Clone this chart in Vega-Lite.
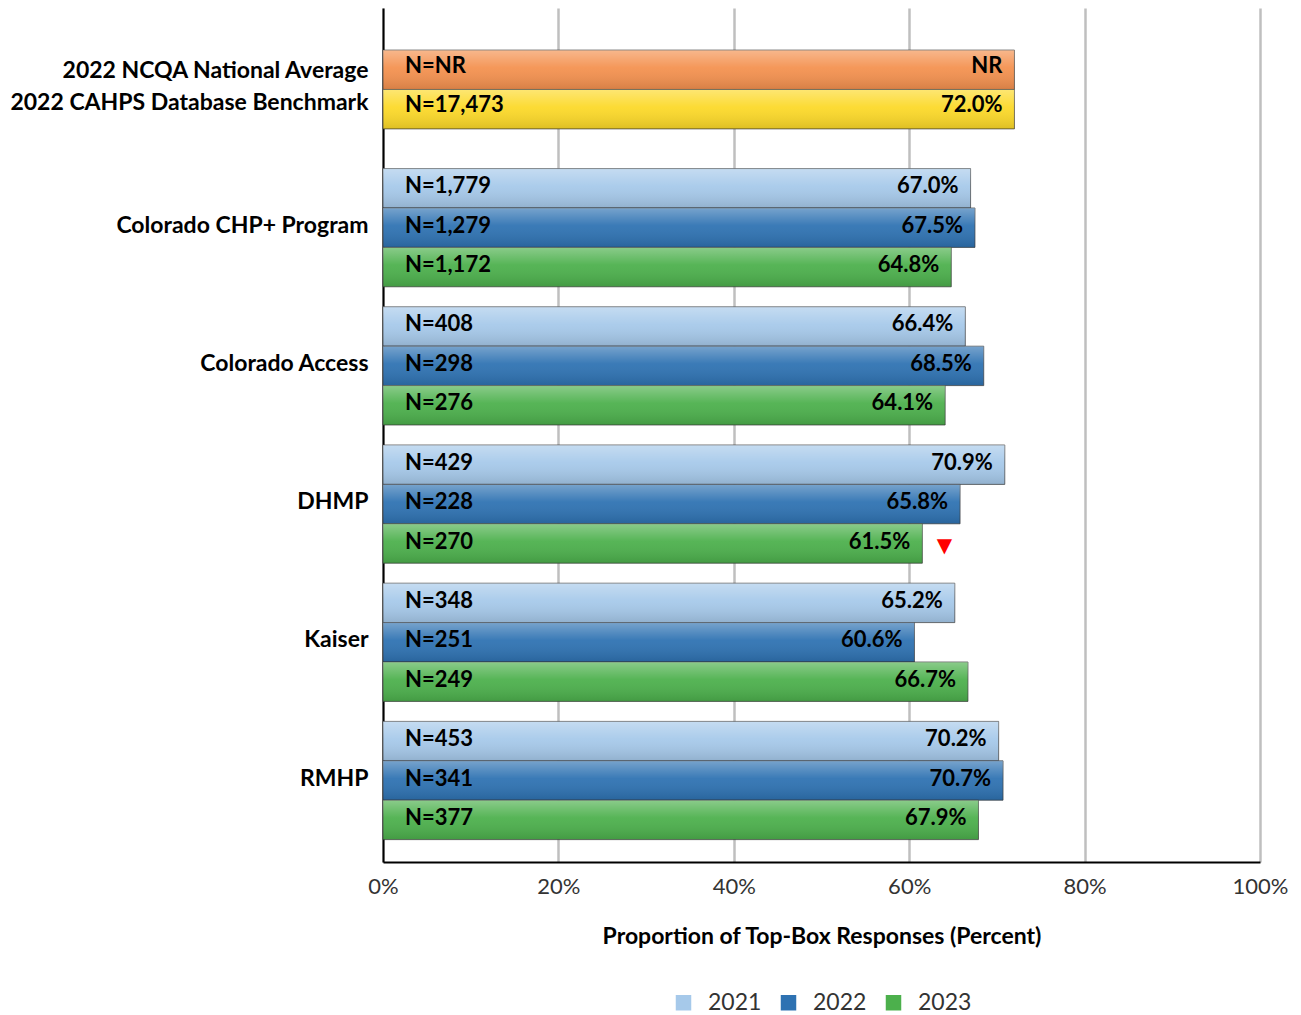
{
  "$schema": "https://vega.github.io/schema/vega-lite/v6.json",
  "width": 877,
  "height": 854,
  "autosize": {"type": "none"},
  "padding": {"left": 383, "top": 8, "right": 41, "bottom": 153},
  "background": "white",
  "config": {
    "font": "Lato",
    "view": {"stroke": null},
    "axis": {"labelFont": "Lato", "titleFont": "Lato"},
    "legend": {"labelFont": "Lato"}
  },
  "data": {
    "values": [
      {"group": "Benchmark", "series": "NCQA", "value": 72.0, "n": "N=NR", "label": "NR", "flag": false},
      {"group": "Benchmark", "series": "CAHPS", "value": 72.0, "n": "N=17,473", "label": "72.0%", "flag": false},
      {"group": "Colorado CHP+ Program", "series": "2021", "value": 67.0, "n": "N=1,779", "label": "67.0%", "flag": false},
      {"group": "Colorado CHP+ Program", "series": "2022", "value": 67.5, "n": "N=1,279", "label": "67.5%", "flag": false},
      {"group": "Colorado CHP+ Program", "series": "2023", "value": 64.8, "n": "N=1,172", "label": "64.8%", "flag": false},
      {"group": "Colorado Access", "series": "2021", "value": 66.4, "n": "N=408", "label": "66.4%", "flag": false},
      {"group": "Colorado Access", "series": "2022", "value": 68.5, "n": "N=298", "label": "68.5%", "flag": false},
      {"group": "Colorado Access", "series": "2023", "value": 64.1, "n": "N=276", "label": "64.1%", "flag": false},
      {"group": "DHMP", "series": "2021", "value": 70.9, "n": "N=429", "label": "70.9%", "flag": false},
      {"group": "DHMP", "series": "2022", "value": 65.8, "n": "N=228", "label": "65.8%", "flag": false},
      {"group": "DHMP", "series": "2023", "value": 61.5, "n": "N=270", "label": "61.5%", "flag": true},
      {"group": "Kaiser", "series": "2021", "value": 65.2, "n": "N=348", "label": "65.2%", "flag": false},
      {"group": "Kaiser", "series": "2022", "value": 60.6, "n": "N=251", "label": "60.6%", "flag": false},
      {"group": "Kaiser", "series": "2023", "value": 66.7, "n": "N=249", "label": "66.7%", "flag": false},
      {"group": "RMHP", "series": "2021", "value": 70.2, "n": "N=453", "label": "70.2%", "flag": false},
      {"group": "RMHP", "series": "2022", "value": 70.7, "n": "N=341", "label": "70.7%", "flag": false},
      {"group": "RMHP", "series": "2023", "value": 67.9, "n": "N=377", "label": "67.9%", "flag": false}
    ]
  },
  "encoding": {
    "y": {
      "field": "group",
      "type": "nominal",
      "sort": ["Benchmark", "Colorado CHP+ Program", "Colorado Access", "DHMP", "Kaiser", "RMHP"],
      "scale": {"paddingInner": 0.1447, "paddingOuter": 0.162},
      "axis": {
        "title": null,
        "ticks": false,
        "domain": true,
        "domainColor": "#000000",
        "domainWidth": 2,
        "labelFontSize": 23,
        "labelFontWeight": "bold",
        "labelColor": "#000000",
        "labelPadding": 15,
        "labelLimit": 400,
        "labelLineHeight": 32,
        "labelOffset": {"condition": {"test": "datum.value == 'Benchmark'", "value": -18}, "value": -2},
        "labelExpr": "datum.value == 'Benchmark' ? ['2022 NCQA National Average', '2022 CAHPS Database Benchmark'] : datum.value"
      }
    },
    "x": {
      "field": "value",
      "type": "quantitative",
      "scale": {"domain": [0, 100], "nice": false},
      "axis": {
        "title": "Proportion of Top-Box Responses (Percent)",
        "titleFontSize": 23,
        "titleFontWeight": "bold",
        "titleColor": "#000000",
        "titlePadding": 28,
        "values": [0, 20, 40, 60, 80, 100],
        "labelExpr": "datum.value + '%'",
        "labelFontSize": 22,
        "labelColor": "#333333",
        "labelPadding": 14,
        "labelFlush": false,
        "ticks": false,
        "domain": true,
        "domainColor": "#000000",
        "domainWidth": 2,
        "grid": true,
        "gridColor": "#bfbfbf",
        "gridWidth": 2.5
      }
    }
  },
  "layer": [
    {
      "transform": [{"filter": "datum.group != 'Benchmark'"}],
      "encoding": {
        "yOffset": {"field": "series", "type": "nominal", "sort": ["2021", "2022", "2023"]}
      },
      "layer": [
        {
          "mark": {"type": "bar", "stroke": "#3a3a3a", "strokeOpacity": 0.7, "strokeWidth": 1},
          "encoding": {
            "color": {
              "field": "series",
              "type": "nominal",
              "scale": {
                "domain": ["2021", "2022", "2023", "NCQA", "CAHPS"],
                "range": ["#a6c9ea", "#2e72b2", "#4cb04c", "#f4914f", "#fcd928"]
              },
              "legend": {
                "values": ["2021", "2022", "2023"],
                "title": null,
                "orient": "none",
                "legendX": 289,
                "legendY": 983,
                "direction": "horizontal",
                "symbolType": "square",
                "symbolSize": 240,
                "symbolStrokeWidth": 0,
                "labelFontSize": 23,
                "labelColor": "#333333",
                "labelOffset": 13,
                "columnPadding": 15
              }
            }
          }
        },
        {
          "mark": {
            "type": "bar",
            "fill": {
              "gradient": "linear", "x1": 0, "y1": 0, "x2": 0, "y2": 1,
              "stops": [
                {"offset": 0, "color": "rgba(255,255,255,0.35)"},
                {"offset": 0.45, "color": "rgba(255,255,255,0.06)"},
                {"offset": 1, "color": "rgba(0,0,0,0.12)"}
              ]
            },
            "stroke": null
          },
          "encoding": {}
        },
        {
          "mark": {"type": "text", "align": "left", "baseline": "middle", "dx": 22, "dy": -2, "fontSize": 22, "fontWeight": "bold", "color": "#000000"},
          "encoding": {"x": {"datum": 0}, "text": {"field": "n"}}
        },
        {
          "mark": {"type": "text", "align": "right", "baseline": "middle", "dx": -12, "dy": -2, "fontSize": 22, "fontWeight": "bold", "color": "#000000"},
          "encoding": {"text": {"field": "label"}}
        },
        {
          "transform": [{"filter": "datum.flag"}],
          "mark": {"type": "text", "align": "center", "baseline": "middle", "dx": 22, "dy": 2, "fontSize": 20, "font": "DejaVu Sans", "color": "#ff0000", "text": "▼"},
          "encoding": {}
        }
      ]
    },
    {
      "transform": [{"filter": "datum.group == 'Benchmark'"}],
      "encoding": {
        "yOffset": {"field": "series", "type": "nominal", "sort": ["NCQA", "CAHPS"], "scale": {"paddingOuter": 0.5}}
      },
      "layer": [
        {
          "mark": {"type": "bar", "stroke": "#3a3a3a", "strokeOpacity": 0.7, "strokeWidth": 1},
          "encoding": {"color": {"field": "series", "type": "nominal"}}
        },
        {
          "mark": {
            "type": "bar",
            "fill": {
              "gradient": "linear", "x1": 0, "y1": 0, "x2": 0, "y2": 1,
              "stops": [
                {"offset": 0, "color": "rgba(255,255,255,0.35)"},
                {"offset": 0.45, "color": "rgba(255,255,255,0.06)"},
                {"offset": 1, "color": "rgba(0,0,0,0.12)"}
              ]
            },
            "stroke": null
          },
          "encoding": {}
        },
        {
          "mark": {"type": "text", "align": "left", "baseline": "middle", "dx": 22, "dy": -4, "fontSize": 22, "fontWeight": "bold", "color": "#000000"},
          "encoding": {"x": {"datum": 0}, "text": {"field": "n"}}
        },
        {
          "mark": {"type": "text", "align": "right", "baseline": "middle", "dx": -12, "dy": -4, "fontSize": 22, "fontWeight": "bold", "color": "#000000"},
          "encoding": {"text": {"field": "label"}}
        }
      ]
    }
  ],
  "resolve": {"scale": {"yOffset": "independent"}}
}
